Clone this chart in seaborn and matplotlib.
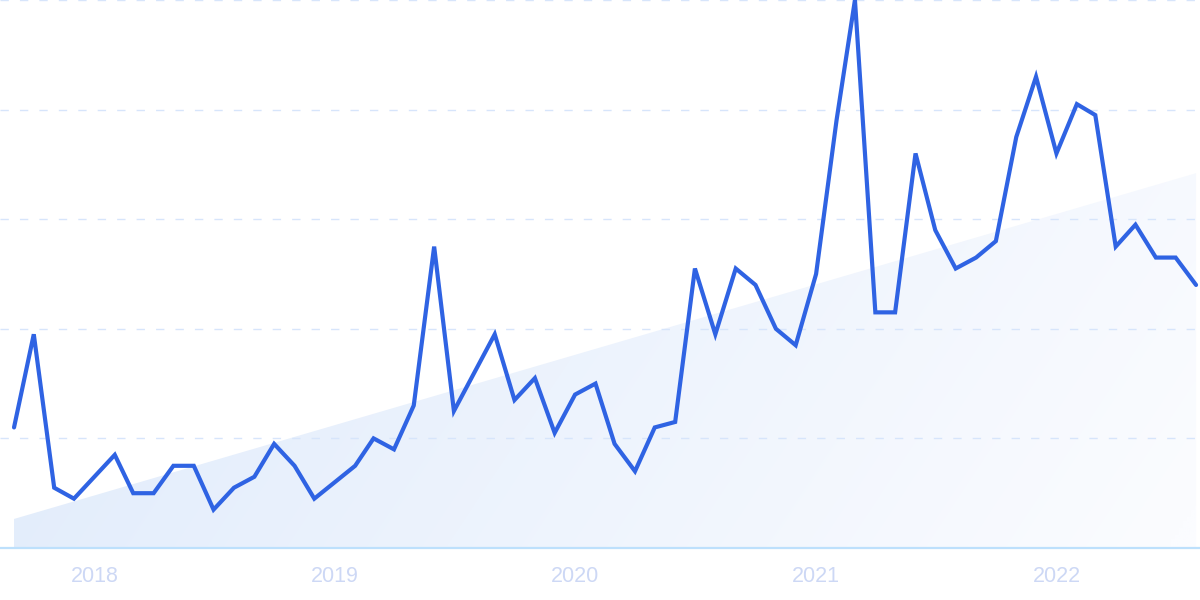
import numpy as np
import pandas as pd
import matplotlib
matplotlib.use("Agg")
import matplotlib.pyplot as plt
import matplotlib.dates as mdates
import seaborn as sns

# ---- data ----
start_month = "2017-09-01"
values = [22, 39, 11, 9, 13, 17, 10, 10, 15, 15,
          7, 11, 13, 19, 15, 9, 12, 15, 20, 18,
          26, 55, 25, 32, 39, 27, 31, 21, 28, 30,
          19, 14, 22, 23, 51, 39, 51, 48, 40, 37,
          50, 78, 100, 43, 43, 72, 58, 51, 53, 56,
          75, 86, 72, 81, 79, 55, 59, 53, 53, 48]
trend_start = 5.3
trend_end = 68.4
tick_years = ["2018", "2019", "2020", "2021", "2022"]
y_grid = [20, 40, 60, 80, 100]

dates = pd.date_range(start_month, periods=len(values), freq="MS")
df = pd.DataFrame({"date": dates, "value": values})

sns.set_theme(style="white")
plt.rcParams["font.family"] = ["Liberation Sans", "DejaVu Sans"]

fig = plt.figure(figsize=(12, 6), dpi=100)
ax = fig.add_axes([0, 52 / 600, 1, 548 / 600])

# trend area with gradient
tx = mdates.date2num([dates[0], dates[-1]])
ty = [trend_start, trend_end]
poly = ax.fill_between([dates[0], dates[-1]], [0, 0], ty, color="none", lw=0)
left = np.array([222, 234, 251]) / 255
right = np.array([251, 252, 255]) / 255
nx, ny = 300, 150
xn = np.linspace(0, 1, nx)[None, :]
yn = np.linspace(1, 0, ny)[:, None]
t = np.clip(0.82 * xn + 0.25 * (1 - yn) - 0.05, 0, 1)
img = left[None, None, :] * (1 - t[..., None]) + right[None, None, :] * t[..., None]
im = ax.imshow(img, extent=[tx[0], tx[1], 0, 100], aspect="auto", zorder=1,
               interpolation="bilinear")
path = poly.get_paths()[0]
im.set_clip_path(path, transform=ax.transData)

# gridlines
for g in y_grid:
    ax.axhline(g, color="#d7e5fb", lw=1.0, ls=(0, (6, 8)), zorder=2)
ax.axhline(0, color="#bde0fc", lw=1.6, zorder=2, clip_on=False)

sns.lineplot(data=df, x="date", y="value", ax=ax, color="#2f63e3",
             lw=3.0, zorder=5, clip_on=False)
ax.lines[-1].set_solid_joinstyle("miter")

ax.set_xlim(dates[0] - pd.Timedelta(days=21.3), dates[-1] + pd.Timedelta(days=6))
ax.set_ylim(0, 100)
ax.set_xticks([pd.Timestamp(f"{y}-01-01") for y in tick_years])
ax.set_xticklabels(tick_years)
ax.set_yticks([])
ax.set_xlabel("")
ax.set_ylabel("")
ax.tick_params(axis="x", length=0, pad=13, labelsize=15.5, labelcolor="#cdd8f5")
for s in ax.spines.values():
    s.set_visible(False)

fig.savefig("out.png", dpi=100)
